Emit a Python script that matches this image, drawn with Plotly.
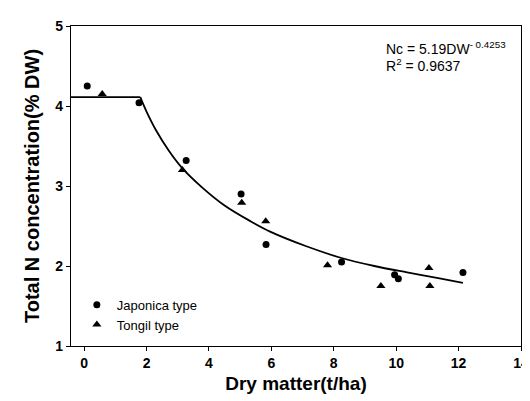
import plotly.graph_objects as go

# Japonica type (circles)
jap_x = [0.10, 1.76, 3.27, 5.03, 5.83, 8.25, 9.95, 10.07, 12.14]
jap_y = [4.25, 4.04, 3.32, 2.90, 2.27, 2.05, 1.89, 1.84, 1.92]

# Tongil type (triangles)
ton_x = [0.58, 3.15, 5.05, 5.82, 7.80, 9.51, 11.05, 11.08]
ton_y = [4.15, 3.20, 2.79, 2.56, 2.01, 1.75, 1.975, 1.75]

# critical N dilution line: plateau, then the curve
plateau_x = [-0.42, 1.80]
plateau_y = [4.11, 4.11]
curve_x = [1.80, 2.00, 2.30, 2.70, 3.13, 3.76, 4.49, 5.33, 5.96, 7.10, 8.25, 9.30, 10.35, 11.39, 12.14]
curve_y = [4.11, 3.93, 3.70, 3.45, 3.23, 2.99, 2.76, 2.56, 2.43, 2.25, 2.10, 2.00, 1.92, 1.845, 1.79]

x_ticks = [0, 2, 4, 6, 8, 10, 12, 14]
y_ticks = [1, 2, 3, 4, 5]

FONT = "Arial, Liberation Sans, sans-serif"

fig = go.Figure()
fig.add_trace(go.Scatter(x=plateau_x, y=plateau_y, mode="lines", line=dict(color="black", width=1.8),
                         showlegend=False, hoverinfo="skip"))
fig.add_trace(go.Scatter(x=curve_x, y=curve_y, mode="lines", line=dict(color="black", width=1.8, shape="spline", smoothing=1.0),
                         showlegend=False, hoverinfo="skip"))
fig.add_trace(go.Scatter(x=jap_x, y=jap_y, mode="markers", name="Japonica type",
                         marker=dict(symbol="circle", size=7, color="black")))
fig.add_trace(go.Scatter(x=ton_x, y=ton_y, mode="markers", name="Tongil type",
                         marker=dict(symbol="triangle-up", size=8, color="black")))

axis_common = dict(showline=True, linecolor="black", linewidth=1.3, mirror=True, ticks="outside",
                   ticklen=4, tickcolor="black", showgrid=False, zeroline=False,
                   tickfont=dict(family=FONT, size=14, color="black"))

fig.update_xaxes(range=[-0.42, 14], tickvals=x_ticks, ticktext=["<b>%d</b>" % v for v in x_ticks],
                 title=dict(text="<b>Dry matter(t/ha)</b>", font=dict(family=FONT, size=19, color="black"), standoff=6),
                 **axis_common)
fig.update_yaxes(range=[1, 5], tickvals=y_ticks, ticktext=["<b>%d</b>" % v for v in y_ticks],
                 title=dict(text="<b>Total N concentration(% DW)</b>", font=dict(family=FONT, size=20, color="black"), standoff=10),
                 **axis_common)

fig.add_annotation(xref="paper", yref="paper", x=0.695, y=0.932, xanchor="left", yanchor="middle", showarrow=False,
                   text="Nc = 5.19DW<sup>- 0.4253</sup>", font=dict(family=FONT, size=14, color="black"))
fig.add_annotation(xref="paper", yref="paper", x=0.695, y=0.878, xanchor="left", yanchor="middle", showarrow=False,
                   text="R<sup>2</sup> = 0.9637", font=dict(family=FONT, size=14, color="black"))

fig.update_layout(
    width=530, height=401,
    margin=dict(l=63, r=9, t=18, b=63),
    paper_bgcolor="white", plot_bgcolor="white",
    font=dict(family=FONT, color="black"),
    legend=dict(x=0.013, y=0.176, xanchor="left", yanchor="top", bgcolor="rgba(0,0,0,0)",
                font=dict(family=FONT, size=13, color="black"), tracegroupgap=0),
)

fig.write_html("out.html")
